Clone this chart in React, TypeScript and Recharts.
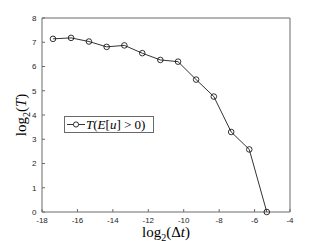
import React from "react";
import { Label, Legend, Line, LineChart, XAxis, YAxis } from "recharts";

// log2(dt) and log2(T)
const logDt = [-17.38, -16.36, -15.35, -14.35, -13.35, -12.34, -11.32, -10.32, -9.3, -8.3, -7.32, -6.3, -5.31];
const logT = [7.14, 7.18, 7.03, 6.81, 6.87, 6.55, 6.27, 6.2, 5.46, 4.76, 3.3, 2.58, 0];

const xTicks = [-18, -16, -14, -12, -10, -8, -6, -4];
const yTicks = [0, 1, 2, 3, 4, 5, 6, 7, 8];

const AXIS = "#6a6a6a";
const INK = "#262626";
const SERIF = "'Liberation Serif', 'DejaVu Serif', serif";
const SANS = "'Liberation Sans', Arial, sans-serif";

const tickStyle = { fill: INK, fontSize: 8, fontFamily: SANS };

function XTitle({ viewBox }: { viewBox?: { x: number; y: number; width: number } }) {
  if (!viewBox) return null;
  return (
    <text x={viewBox.x + viewBox.width / 2} y={viewBox.y + 25} textAnchor="middle" fontFamily={SERIF} fontSize={15} fill="#000">
      log<tspan fontSize={10} dy={3.5}>2</tspan>
      <tspan dy={-3.5}>(Δ</tspan>
      <tspan fontStyle="italic">t</tspan>)
    </text>
  );
}

function YTitle({ viewBox }: { viewBox?: { x: number; y: number; height: number } }) {
  if (!viewBox) return null;
  const cx = 26;
  const cy = viewBox.y + viewBox.height / 2;
  return (
    <text x={cx} y={cy} transform={`rotate(-90 ${cx} ${cy})`} textAnchor="middle" fontFamily={SERIF} fontSize={15} fill="#000">
      log<tspan fontSize={10} dy={3.5}>2</tspan>
      <tspan dy={-3.5}>(</tspan>
      <tspan fontStyle="italic">T</tspan>)
    </text>
  );
}

function LegendBox() {
  return (
    <div
      style={{
        display: "flex",
        alignItems: "center",
        width: 88,
        height: 15,
        border: `1px solid ${AXIS}`,
        background: "#fff",
        fontFamily: SERIF,
        fontSize: 13,
        lineHeight: "15px",
        whiteSpace: "nowrap",
      }}
    >
      <svg width={21} height={15} style={{ flex: "none" }}>
        <line x1={2} y1={7.5} x2={20} y2={7.5} stroke="#000" strokeWidth={0.8} />
        <circle cx={11} cy={7.5} r={2.6} fill="#fff" stroke="#000" strokeWidth={0.8} />
      </svg>
      <span>
        <i>T</i>(<i>E</i>[<i>u</i>] &gt; 0)
      </span>
    </div>
  );
}

export default function App() {
  const data = logDt.map((x, i) => ({ x, y: logT[i] }));
  return (
    <div style={{ position: "absolute", left: 0, top: 0, width: 321, height: 241, background: "#fff" }}>
      <LineChart width={321} height={241} data={data} margin={{ top: 17, right: 30, bottom: 0, left: 0 }}>
        <XAxis
          dataKey="x"
          type="number"
          domain={[-18, -4]}
          ticks={xTicks}
          interval={0}
          height={29}
          tickSize={-3}
          tickMargin={8}
          stroke={AXIS}
          tick={tickStyle}
        >
          <Label content={<XTitle />} />
        </XAxis>
        <XAxis
          xAxisId="top"
          orientation="top"
          type="number"
          domain={[-18, -4]}
          ticks={xTicks}
          interval={0}
          height={1}
          tickSize={-3}
          stroke={AXIS}
          tick={false}
        />
        <YAxis
          type="number"
          domain={[0, 8]}
          ticks={yTicks}
          interval={0}
          width={42}
          tickSize={-3}
          tickMargin={8.5}
          stroke={AXIS}
          tick={tickStyle}
        >
          <Label content={<YTitle />} />
        </YAxis>
        <YAxis
          yAxisId="right"
          orientation="right"
          type="number"
          domain={[0, 8]}
          ticks={yTicks}
          interval={0}
          width={1}
          tickSize={-3}
          stroke={AXIS}
          tick={false}
        />
        <Legend
          layout="horizontal"
          verticalAlign="middle"
          align="center"
          content={<LegendBox />}
          wrapperStyle={{ position: "absolute", left: 64, top: 116, width: 90, height: 17 }}
        />
        <Line
          dataKey="y"
          name="T(E[u] > 0)"
          stroke="#000"
          strokeWidth={0.8}
          dot={{ r: 2.8, fill: "none", stroke: "#000", strokeWidth: 0.8 }}
          activeDot={false}
          isAnimationActive={false}
        />
      </LineChart>
    </div>
  );
}
